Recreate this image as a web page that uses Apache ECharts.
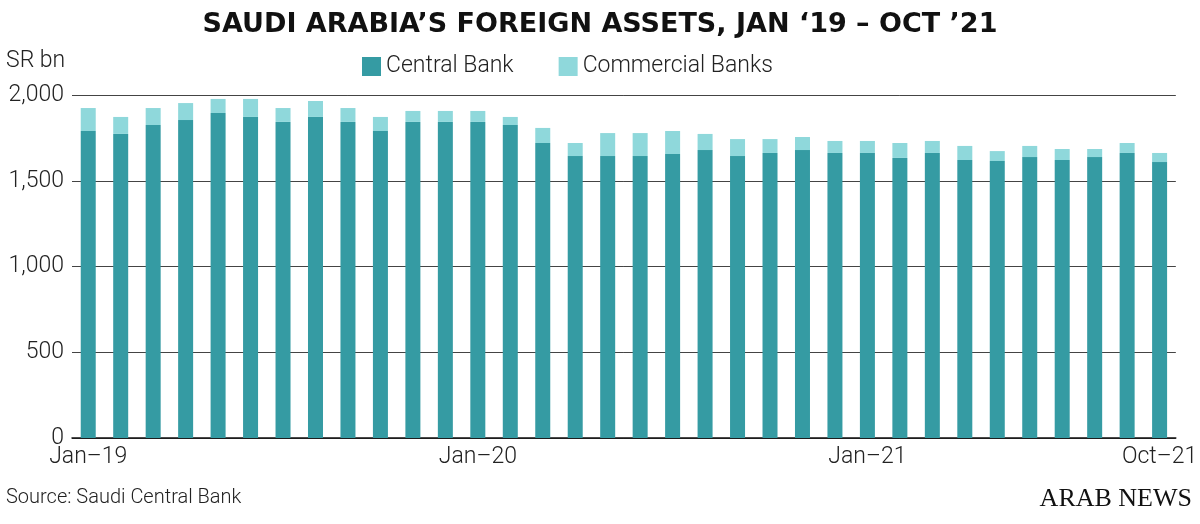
<!DOCTYPE html>
<html>
<head>
<meta charset="utf-8">
<script src="https://cdn.jsdelivr.net/npm/echarts@6/dist/echarts.min.js"></script>
<style>
  html, body { margin: 0; padding: 0; background: #fff; }
  #chart { width: 1200px; height: 524px; }
</style>
</head>
<body>
<div id="chart"></div>
<script>
(function () {
  'use strict';

  // 月度数据：[央行, 商业银行合计]，单位 SR bn
  const months = [];
  const names = ['Jan','Feb','Mar','Apr','May','Jun','Jul','Aug','Sep','Oct','Nov','Dec'];
  for (let y = 19; y <= 21; y++) {
    for (let m = 0; m < 12; m++) {
      if (y === 21 && m > 9) break;
      months.push(names[m] + '\u2013' + y);
    }
  }
  const central = [1790,1773,1825,1854,1895,1872,1843,1872,1843,1790,1843,1843,1843,1825,1720,1644,1644,1644,1656,1679,1644,1662,1679,1662,1662,1633,1662,1621,1615,1638,1621,1638,1662,1609];
  const total   = [1924,1872,1924,1953,1977,1977,1924,1965,1924,1872,1907,1907,1907,1872,1808,1720,1778,1778,1790,1773,1743,1743,1755,1732,1732,1720,1732,1703,1673,1703,1685,1685,1720,1662];
  const commercial = total.map((t, i) => t - central[i]);

  const C = { central: '#359ba3', commercial: '#8fd8db', ink: '#222', grid: '#444' };
  const showIdx = [0, 12, 24, 33];

  const chart = echarts.init(document.getElementById('chart'), null, { renderer: 'canvas' });
  chart.setOption({
    backgroundColor: '#fff',
    animation: false,
    title: {
      text: 'SAUDI ARABIA\u2019S FOREIGN ASSETS, JAN \u201819 \u2013 OCT \u201921',
      left: 'center', top: 6,
      textStyle: { fontFamily: 'DejaVu Sans', fontWeight: 900, fontSize: 27, color: '#111' },
    },
    legend: {
      top: 50, left: 357, itemWidth: 19, itemHeight: 19, itemGap: 45, icon: 'rect',
      textStyle: { fontFamily: 'Roboto', fontSize: 23, color: C.ink, fontWeight: 300 },
      data: ['Central Bank', 'Commercial Banks'],
    },
    graphic: [
      { type: 'text', left: 6, top: 50, style: { text: 'SR bn', font: '300 23px Roboto', fill: C.ink } },
      { type: 'text', left: 6, top: 488, style: { text: 'Source: Saudi Central Bank', font: '300 20px Roboto', fill: C.ink } },
      { type: 'text', right: 8, top: 486, style: { text: 'ARAB NEWS', font: '26px "Liberation Serif"', fill: '#111' } },
    ],
    grid: { left: 72, right: 6, top: 95, bottom: 86 },
    xAxis: {
      type: 'category', data: months,
      axisLine: { lineStyle: { color: '#111', width: 1.5 } },
      axisTick: { show: false },
      axisLabel: {
        interval: (i) => showIdx.includes(i),
        color: C.ink, fontFamily: 'Roboto', fontWeight: 300, fontSize: 23, margin: 8,
      },
    },
    yAxis: {
      type: 'value', min: 0, max: 2000, interval: 500,
      axisLabel: {
        color: C.ink, fontFamily: 'Roboto', fontWeight: 300, fontSize: 23,
        formatter: (v) => v.toLocaleString('en-US'),
      },
      splitLine: { lineStyle: { color: C.grid, width: 1 } },
    },
    series: [
      { name: 'Central Bank', type: 'bar', stack: 's', data: central, barWidth: 15, itemStyle: { color: C.central } },
      { name: 'Commercial Banks', type: 'bar', stack: 's', data: commercial, barWidth: 15, itemStyle: { color: C.commercial } },
    ],
  });
})();
</script>
</body>
</html>
